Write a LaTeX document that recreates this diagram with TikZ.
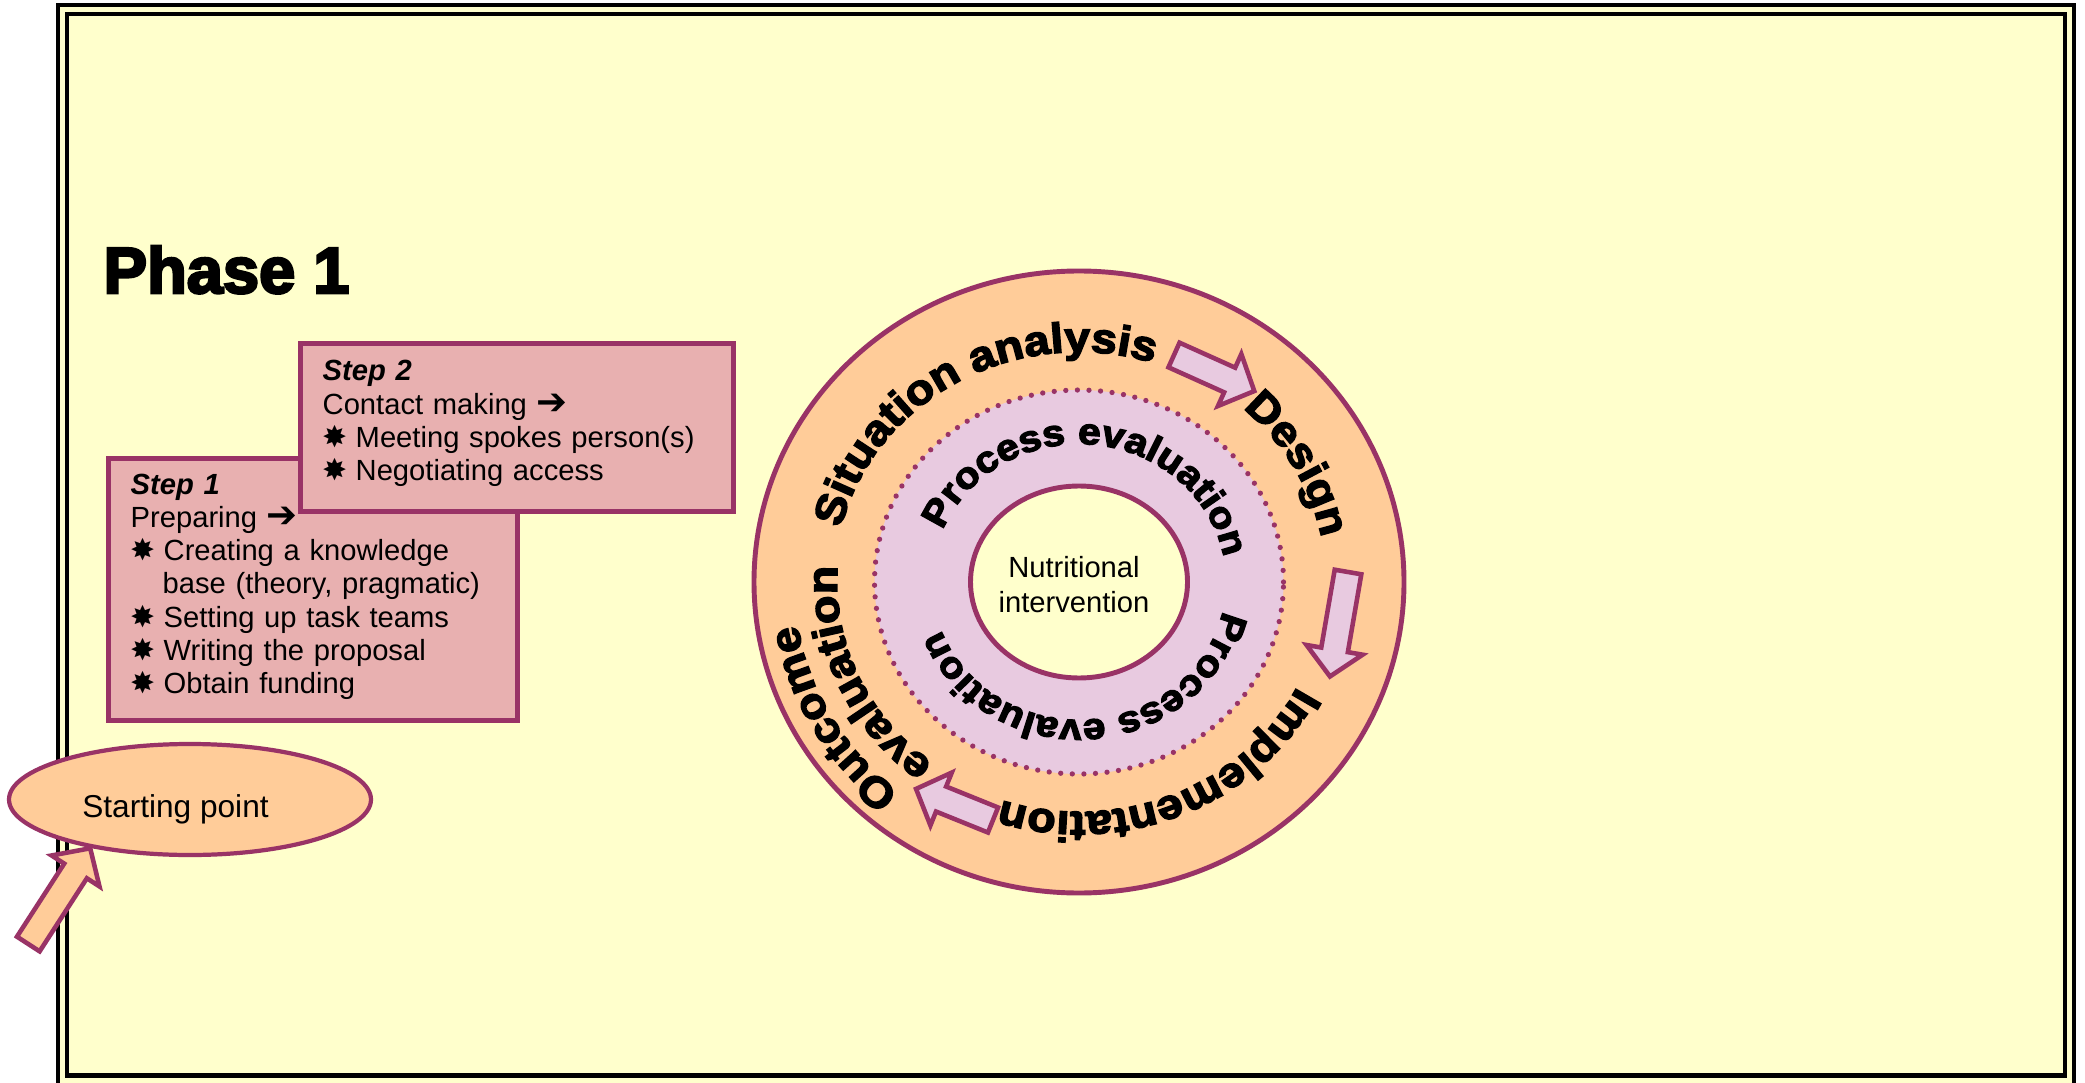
\documentclass[tikz,border=0pt]{standalone}
\usepackage{fontspec}
\setmainfont{Liberation Sans}
\newfontfamily\dingfont{DejaVu Sans}
\newfontfamily\blackfont{Liberation Sans Bold}[FakeBold=3.5, FakeStretch=1.1]
\newfontfamily\phasefont{Liberation Sans Bold}[FakeBold=4]
\usepackage{tikz}
\usetikzlibrary{calc, decorations.text, shapes.geometric}
\definecolor{PaleYellow}{HTML}{FFFFCC}
\definecolor{Peach}{HTML}{FFCC99}
\definecolor{Plum}{HTML}{993366}
\definecolor{Lilac}{HTML}{E8CAE0}
\definecolor{Rose}{HTML}{E8B0B0}
\newcommand{\ringfont}{\blackfont\fontsize{12}{14}\selectfont}
\newcommand{\innerfont}{\blackfont\fontsize{10.5}{12}\selectfont}
\newcommand{\starbul}{\makebox[0.33cm][l]{\dingfont\fontsize{8.5}{8}\selectfont ✸}}
\newcommand{\bigto}{{\dingfont\fontsize{10.5}{10}\selectfont ➔}}

\begin{document}
\begin{tikzpicture}[
    frame/.style={draw=black, line width=1.3pt},
    stepbox/.style={draw=Plum, fill=Rose, line width=1.4pt, anchor=north west, inner sep=0pt},
    steptext/.style={text width=4.2cm, align=left, anchor=base west, inner sep=0pt, font=\fontsize{8.3}{9.47}\selectfont},
    ring/.style={draw=Plum, line width=1.4pt},
    curved/.style={decorate, decoration={text along path, text={#1}}},
    pics/bigarrow/.style 2 args={code={
      \filldraw[fill=#2, draw=Plum, line width=1.3pt, line join=miter]
        (0,-0.135) -- ({#1-0.27},-0.135) -- ({#1-0.27},-0.285) -- (#1,0)
        -- ({#1-0.27},0.285) -- ({#1-0.27},0.135) -- (0,0.135) -- cycle;}}
  ]
		\useasboundingbox (0,0) rectangle (20.85,10.82);
		\fill[white] (0,0) rectangle (20.85,10.82);
		
		% double frame
		\filldraw[frame, fill=PaleYellow] (0.58,-0.05) rectangle (20.74,10.77);
		\draw[frame] (0.67,0.065) rectangle (20.65,10.68);
		
		\node[anchor=base west, inner sep=0pt, font=\phasefont\fontsize{18.5}{20}\selectfont] (phase) at (1.03,7.89) {Phase 1};
		
		% steps
		\node[stepbox, minimum width=4.09cm, minimum height=2.62cm] (step1) at (1.06,6.26) {};
		\node[steptext] (step1txt) at (1.30,5.88) {\textbf{\textit{Step 1}}\\
			Preparing \bigto\\
			\starbul Creating a knowledge\\
			\hspace*{0.32cm}base (theory, pragmatic)\\
			\starbul Setting up task teams\\
			\starbul Writing the proposal\\
			\starbul Obtain funding};
		
		\node[stepbox, minimum width=4.33cm, minimum height=1.68cm] (step2) at (2.98,7.41) {};
		\node[steptext] (step2txt) at (3.22,7.01) {\textbf{\textit{Step 2}}\\
			Contact making \bigto\\
			\starbul Meeting spokes person(s)\\
			\starbul Negotiating access};
		
		% starting point
		\node[ellipse, draw=Plum, fill=Peach, line width=1.2pt, minimum width=3.62cm, minimum height=1.11cm, inner sep=0pt] (start) at (1.90,2.825) {};
		\node[anchor=base, inner sep=0pt, font=\fontsize{9}{10}\selectfont] (starttxt) at (1.755,2.65) {Starting point};
		\pic[rotate=57.1] at (0.283,1.38) {bigarrow={1.14}{Peach}};
		
		% cycle
		\coordinate (C) at (10.79,5.00);
		\filldraw[ring, fill=Peach] (C) ellipse [x radius=3.25, y radius=3.11];
		\fill[Lilac] (C) ellipse [x radius=2.045, y radius=1.92];
		\draw[Plum, line width=1.5pt, line cap=round, dash pattern=on 0pt off 3.3pt] (C) ellipse [x radius=2.045, y radius=1.92];
		\filldraw[ring, fill=PaleYellow] (C) ellipse [x radius=1.085, y radius=0.96];
		\node[text width=2.2cm, align=center, anchor=base, inner sep=0pt, font=\fontsize{8.3}{9.96}\selectfont] (nutri) at (10.74,5.05) {Nutritional\\intervention};
		
		\path[curved={|\ringfont|Situation analysis}] ($(C)+(166.5:2.45 and 2.30)$) arc[start angle=166.5, end angle=20, x radius=2.45, y radius=2.30];
		\path[curved={|\ringfont|Design}] ($(C)+(48.5:2.47 and 2.32)$) arc[start angle=48.5, end angle=-20, x radius=2.47, y radius=2.32];
		\path[curved={|\ringfont|Implementation}] ($(C)+(-27:2.45 and 2.30)$) arc[start angle=-27, end angle=-130, x radius=2.45, y radius=2.30];
		\path[curved={|\ringfont|evaluation}] ($(C)+(-127:2.42 and 2.27)$) arc[start angle=-127, end angle=-200, x radius=2.42, y radius=2.27];
		\path[curved={|\ringfont|Outcome}] ($(C)+(-129:2.85 and 2.71)$) arc[start angle=-129, end angle=-190, x radius=2.85, y radius=2.71];
		\path[curved={|\innerfont|Process evaluation}] ($(C)+(158:1.47 and 1.38)$) arc[start angle=158, end angle=-10, x radius=1.47, y radius=1.38];
		\path[curved={|\innerfont|Process evaluation}] ($(C)+(-12:1.47 and 1.38)$) arc[start angle=-12, end angle=-185, x radius=1.47, y radius=1.38];
		
		\pic[rotate=-24.2] at (11.74,7.27) {bigarrow={0.88}{Lilac}};
		\pic[rotate=-99.8] at (13.48,5.10) {bigarrow={1.06}{Lilac}};
		\pic[rotate=158] at (9.93,2.62) {bigarrow={0.83}{Lilac}};
	\end{tikzpicture}
\end{document}
